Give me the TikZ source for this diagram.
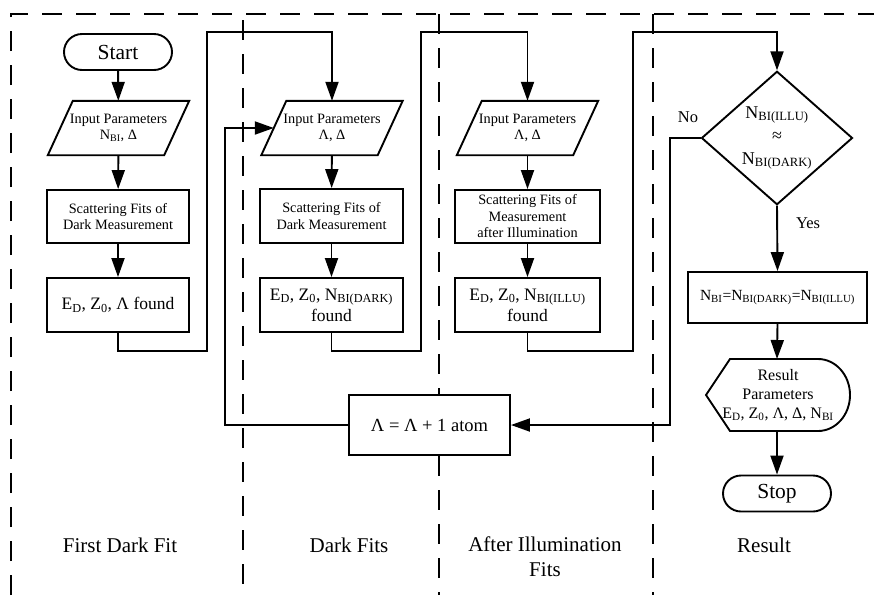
\documentclass[tikz,border=0pt]{standalone}
\usepackage{fontspec}
\setmainfont{Liberation Serif}
\usetikzlibrary{arrows.meta,shapes.geometric,shapes.misc}
\tikzset{
  ln/.style={line width=1.9pt},
  arr/.style={ln,-{Triangle[length=19pt,width=13pt]}},
  dsh/.style={line width=1.7pt,dash pattern=on 20pt off 14pt},
  procbox/.style={draw,ln,fill=white,rectangle,inner sep=0pt,align=center},
  ionode/.style={rectangle,inner sep=0pt,align=center,minimum width=116pt,minimum height=54pt},
  termnode/.style={draw,ln,rounded rectangle,inner sep=0pt,minimum width=108pt,minimum height=36pt,font=\fontsize{21.5}{24}\selectfont},
  small/.style={font=\fontsize{14.3}{16.5}\selectfont},
  big/.style={font=\fontsize{17.5}{21}\selectfont},
  lbl/.style={align=center,font=\fontsize{21}{25}\selectfont},
}
\newcommand{\sbs}[1]{\textsubscript{#1}}
\newcommand{\pgram}[1]{\draw[ln] ([xshift=12.5pt]#1.north west) -- ([xshift=12.5pt]#1.north east) -- ([xshift=-12.5pt]#1.south east) -- ([xshift=-12.5pt]#1.south west) -- cycle;}
\begin{document}
\begin{tikzpicture}[x=1pt,y=-1pt]
\useasboundingbox (0,0) rectangle (874,595);
% dashed frame and separators
\draw[dsh] (11,595) -- (11,14) -- (874,14);
\draw[dsh] (243,20) -- (243,595);
\draw[dsh] (439,14) -- (439,595);
\draw[dsh] (653,14) -- (653,595);

% column 1
\node[termnode] (start) at (118,52) {Start};
\node[ionode,small] (p1) at (118.5,128) {Input Parameters\\N\sbs{BI}, Δ};
\pgram{p1}
\node[procbox,small,minimum width=142pt,minimum height=53pt] (s1) at (118,216.5) {Scattering Fits of\\Dark Measurement};
\node[procbox,big,minimum width=142pt,minimum height=54pt] (f1) at (118,305) {E\sbs{D}, Z\sbs{0}, Λ found};

% column 2
\node[ionode,small] (p2) at (332,128) {Input Parameters\\Λ, Δ};
\pgram{p2}
\node[procbox,small,minimum width=143pt,minimum height=54pt] (s2) at (331.5,216) {Scattering Fits of\\Dark Measurement};
\node[procbox,big,minimum width=143pt,minimum height=54pt] (f2) at (331.5,305) {E\sbs{D}, Z\sbs{0}, N\sbs{BI(DARK)}\\found};

% column 3
\node[ionode,small] (p3) at (527.5,128) {Input Parameters\\Λ, Δ};
\pgram{p3}
\node[procbox,small,minimum width=145pt,minimum height=53pt] (s3) at (527.5,216.5) {Scattering Fits of\\Measurement\\after Illumination};
\node[procbox,big,minimum width=145pt,minimum height=54pt] (f3) at (527.5,305) {E\sbs{D}, Z\sbs{0}, N\sbs{BI(ILLU)}\\found};

% result column
\node[draw,ln,diamond,inner sep=0pt,minimum width=151pt,minimum height=130pt,align=center,font=\fontsize{18}{23}\selectfont] (dia) at (777,138) {N\sbs{BI(ILLU)}\\≈\\N\sbs{BI(DARK)}};
\node[procbox,minimum width=179pt,minimum height=51pt,font=\fontsize{15.5}{18}\selectfont] (eq) at (777.5,297.5) {N\sbs{BI}=N\sbs{BI(DARK)}=N\sbs{BI(ILLU)}};
\node[rectangle,inner sep=0pt,minimum width=144pt,minimum height=72pt,align=center,font=\fontsize{16}{19}\selectfont] (res) at (778,395) {Result\\Parameters\\E\sbs{D}, Z\sbs{0}, Λ, Δ, N\sbs{BI}};
\draw[ln] (706,395) -- (730,359) -- (818,359) arc[start angle=90,end angle=-90,x radius=32pt,y radius=36pt] -- (730,431) -- cycle;
\node[termnode] (stop) at (777,493.5) {Stop};

% lambda box
\node[procbox,font=\fontsize{18.5}{21}\selectfont,minimum width=161pt,minimum height=60pt] (lam) at (429.5,425) {Λ = Λ + 1 atom};

% connectors
\draw[arr] (start) -- (p1);
\draw[arr] (p1) -- (s1);
\draw[arr] (s1) -- (f1);
\draw[arr] (p2) -- (s2);
\draw[arr] (s2) -- (f2);
\draw[arr] (p3) -- (s3);
\draw[arr] (s3) -- (f3);
\draw[arr] (f1.south) |- (207,351) -- (207,32) -| (p2.north);
\draw[arr] (f2.south) |- (421,351) -- (421,32) -| (p3.north);
\draw[arr] (f3.south) |- (633,351) -- (633,32) -| (dia.north);
\draw[arr] (dia.west) -- (670,138) |- (lam.east);
\draw[arr] (lam.west) -| (225,128) -- (p2.west);
\draw[arr] (dia.south) -- (eq.north);
\draw[arr] (eq.south) -- (777,359);
\draw[arr] (777,431) -- (stop.north);

\node[font=\fontsize{16.5}{19}\selectfont] (no) at (688,117) {No};
\node[font=\fontsize{16.5}{19}\selectfont] (yes) at (808,223) {Yes};

% bottom labels
\node[lbl] (l1) at (120,545) {First Dark Fit};
\node[lbl] (l2) at (349,545) {Dark Fits};
\node[lbl] (l3) at (545,557) {After Illumination\\Fits};
\node[lbl] (l4) at (764,545) {Result};
\end{tikzpicture}
\end{document}
